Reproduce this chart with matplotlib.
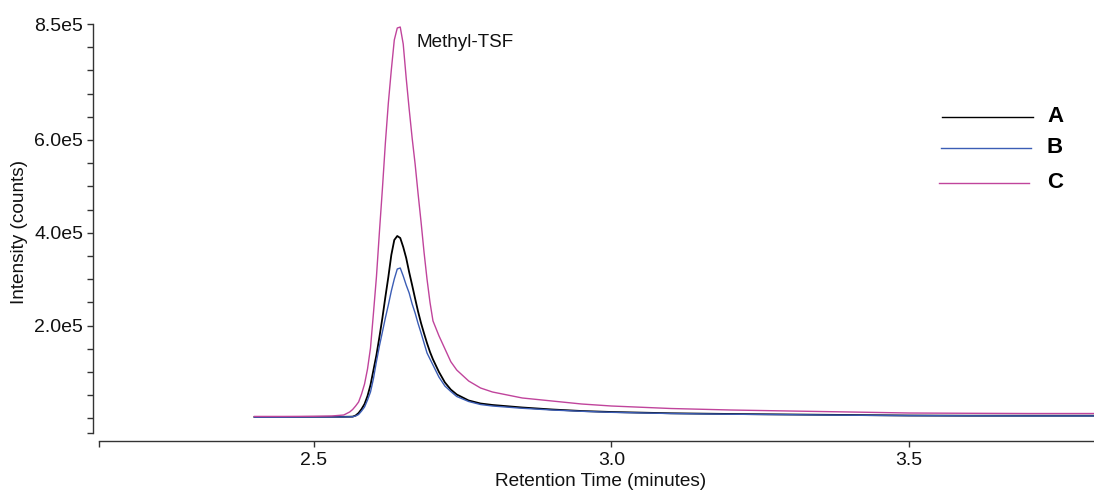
import matplotlib
matplotlib.use("Agg")
import matplotlib.pyplot as plt
from matplotlib.ticker import FixedLocator

plt.rcParams['font.family'] = ['Liberation Sans', 'DejaVu Sans']

# Retention time grid (minutes)
time_min = [2.40, 2.45, 2.50, 2.53, 2.55, 2.56, 2.565, 2.57, 2.575, 2.58,
            2.585, 2.59, 2.595, 2.60, 2.605, 2.61, 2.615, 2.62, 2.625, 2.63,
            2.635, 2.64, 2.645, 2.65, 2.655, 2.66, 2.665, 2.67, 2.675, 2.68,
            2.685, 2.69, 2.695, 2.70, 2.71, 2.72, 2.73, 2.74, 2.76, 2.78,
            2.80, 2.85, 2.90, 2.95, 3.00, 3.10, 3.20, 3.30, 3.40, 3.50,
            3.60, 3.70, 3.81]

# Intensity (counts) for each trace
series_a = [2.8e3, 2.8e3, 3.2e3, 3.2e3, 3.2e3, 3.4e3, 3.6e3, 6.0e3, 11.4e3, 20.0e3,
            30.8e3, 48.1e3, 71.8e3, 104.1e3, 136.4e3, 175.3e3, 216.3e3, 261.5e3, 304.6e3, 352.0e3,
            384.4e3, 393.0e3, 388.7e3, 369.3e3, 345.6e3, 315.0e3, 287.0e3, 258.0e3, 230.0e3, 205.0e3,
            183.0e3, 162.0e3, 143.0e3, 127.0e3, 100.0e3, 77.4e3, 61.9e3, 51.3e3, 38.4e3, 31.9e3,
            28.7e3, 23.3e3, 19.0e3, 15.7e3, 13.6e3, 10.8e3, 9.3e3, 8.2e3, 7.1e3, 6.0e3,
            5.6e3, 5.6e3, 5.6e3]

series_b = [2.4e3, 2.4e3, 2.8e3, 2.8e3, 3.0e3, 3.2e3, 3.4e3, 5.0e3, 8.2e3, 15.7e3,
            24.4e3, 39.4e3, 56.7e3, 85.8e3, 122.4e3, 155.9e3, 186.0e3, 216.3e3, 244.3e3, 274.4e3,
            300.3e3, 321.8e3, 324.0e3, 306.8e3, 287.3e3, 270.1e3, 246.4e3, 227.0e3, 204.3e3, 183.9e3,
            162.3e3, 140.8e3, 127.8e3, 114.9e3, 89.0e3, 69.6e3, 57.8e3, 47.0e3, 36.2e3, 29.7e3,
            26.5e3, 21.6e3, 17.9e3, 15.1e3, 12.9e3, 10.3e3, 8.8e3, 7.8e3, 6.7e3, 5.8e3,
            5.4e3, 5.2e3, 5.2e3]

series_c = [4.0e3, 4.0e3, 4.3e3, 5.0e3, 7.1e3, 13.6e3, 19.0e3, 26.5e3, 35.1e3, 52.4e3,
            73.9e3, 106.3e3, 151.5e3, 227.0e3, 305.0e3, 401.6e3, 494.3e3, 593.4e3, 679.7e3, 750.9e3,
            815.5e3, 841.4e3, 843.5e3, 806.8e3, 733.5e3, 666.7e3, 604.2e3, 548.2e3, 484.0e3, 423.0e3,
            358.0e3, 300.0e3, 250.0e3, 210.0e3, 178.0e3, 150.0e3, 122.0e3, 104.0e3, 80.4e3, 65.3e3,
            56.7e3, 43.8e3, 37.3e3, 30.8e3, 26.5e3, 21.1e3, 17.9e3, 15.7e3, 13.6e3, 11.4e3,
            10.8e3, 10.3e3, 10.3e3]

series_names = ['A', 'B', 'C']
series_colors = ['#000000', '#3b5db5', '#c0449c']

y_major_ticks = [2.0e5, 4.0e5, 6.0e5, 8.5e5]
y_major_labels = ['2.0e5', '4.0e5', '6.0e5', '8.5e5']
x_major_ticks = [2.5, 3.0, 3.5]
x_major_labels = ['2.5', '3.0', '3.5']

peak_label = 'Methyl-TSF'

fig = plt.figure(figsize=(10.94, 4.92), dpi=100)
ax = fig.add_axes([0.085, 0.1037, 0.915, 0.8475])

line_widths = [1.3, 1.0, 1.0]
for vals, col, lw in zip([series_a, series_b, series_c], series_colors, line_widths):
    ax.plot(time_min, vals, color=col, lw=lw, solid_joinstyle='round')

ax.set_xlim(2.1286, 3.811)
ax.set_ylim(-48900, 8.5e5)

axis_col = '#333333'
for side in ['top', 'right']:
    ax.spines[side].set_visible(False)
ax.spines['left'].set_bounds(-31700, 8.5e5)
ax.spines['bottom'].set_bounds(2.1387, 3.811)
for side in ['left', 'bottom']:
    ax.spines[side].set_color(axis_col)
    ax.spines[side].set_linewidth(1.0)

ax.yaxis.set_major_locator(FixedLocator(y_major_ticks))
ax.set_yticklabels(y_major_labels)
y_minor = [k * 0.5e5 for k in range(0, 17)] + [-31700]
ax.yaxis.set_minor_locator(FixedLocator(y_minor))
ax.xaxis.set_major_locator(FixedLocator(x_major_ticks))
ax.set_xticklabels(x_major_labels)
ax.xaxis.set_minor_locator(FixedLocator([2.1387]))

ax.tick_params(axis='both', which='both', direction='out', color=axis_col,
               width=1.0, labelsize=14, labelcolor='#111111')
ax.tick_params(axis='y', which='both', length=4, pad=3)
ax.tick_params(axis='x', which='both', length=4.5, pad=3.5)

fig.text(601 / 1094, 1 - 481 / 492, 'Retention Time (minutes)', ha='center', va='center',
         fontsize=13.7, color='#111111')
fig.text(20 / 1094, 1 - 232 / 492, 'Intensity (counts)', ha='center', va='center',
         rotation=90, fontsize=13.7, color='#111111')

ax.text(2.673, 8.11e5, peak_label, ha='left', va='center', fontsize=13.6, color='#111111')

# Legend drawn as line samples with bold letters
legend_rows = [(0.848, 0.939, 0.778), (0.847, 0.937, 0.703), (0.845, 0.935, 0.619)]
for (x0, x1, yy), name, col in zip(legend_rows, series_names, series_colors):
    ax.plot([x0, x1], [yy, yy], color=col, lw=1.0, transform=ax.transAxes, clip_on=False)
    ax.text(0.953, yy, name, transform=ax.transAxes, ha='left', va='center',
            fontsize=16, fontweight='bold', color='#000000')

fig.savefig('out.png', dpi=100)
